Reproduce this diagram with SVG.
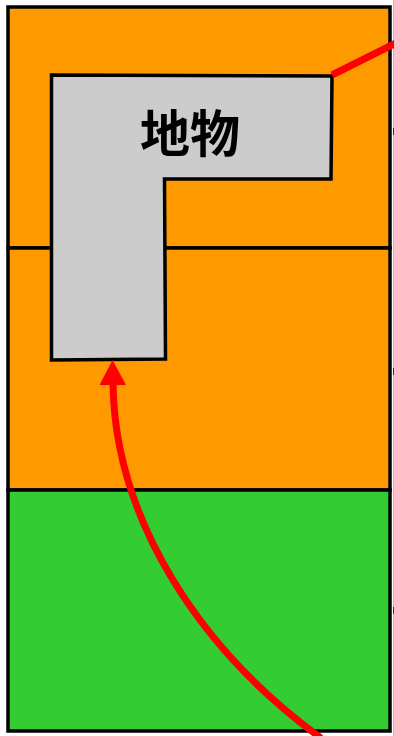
<svg xmlns="http://www.w3.org/2000/svg" width="394" height="736" viewBox="0 0 394 736">
<style>
.zone{stroke:#000;stroke-width:3.5}
.orange{fill:#FF9900}
.green{fill:#33CC33}
.feature{fill:#CCCCCC;stroke:#000;stroke-width:3.5;stroke-linejoin:miter}
.lbl{font-family:"Noto Sans CJK JP","Noto Sans CJK SC",sans-serif;font-weight:bold;font-size:50px;fill:#000}
.conn{fill:none;stroke:#FF0000;stroke-width:7}
</style>
<rect x="0" y="0" width="394" height="736" fill="#fff"/>
<line x1="393.5" y1="0" x2="393.5" y2="736" stroke="#bbb" stroke-width="1"/>
<g id="zone-top"><rect class="zone orange" x="8" y="7" width="382" height="241"/></g>
<g id="zone-middle"><rect class="zone orange" x="8" y="248" width="382" height="242"/></g>
<g id="zone-bottom"><rect class="zone green" x="8" y="490" width="382" height="241"/></g>
<g id="ticks" stroke="#333" stroke-width="1">
<line x1="393.5" y1="128" x2="393.5" y2="135"/>
<line x1="393.5" y1="368" x2="393.5" y2="375"/>
<line x1="393.5" y1="607" x2="393.5" y2="614"/>
</g>
<g id="feature">
<polygon class="feature" points="51.5,75 332,76 331,179 164.5,179 165.5,359 51.5,360"/>
<text class="lbl" x="190" y="152" text-anchor="middle">地物</text>
</g>
<g id="connectors">
<line class="conn" x1="332" y1="75" x2="396" y2="43"/>
<path class="conn" d="M 321,738 C 200,650 115,520 113,384"/>
<polygon points="112.5,360 99.5,385 126,385" fill="#FF0000"/>
</g>
</svg>
